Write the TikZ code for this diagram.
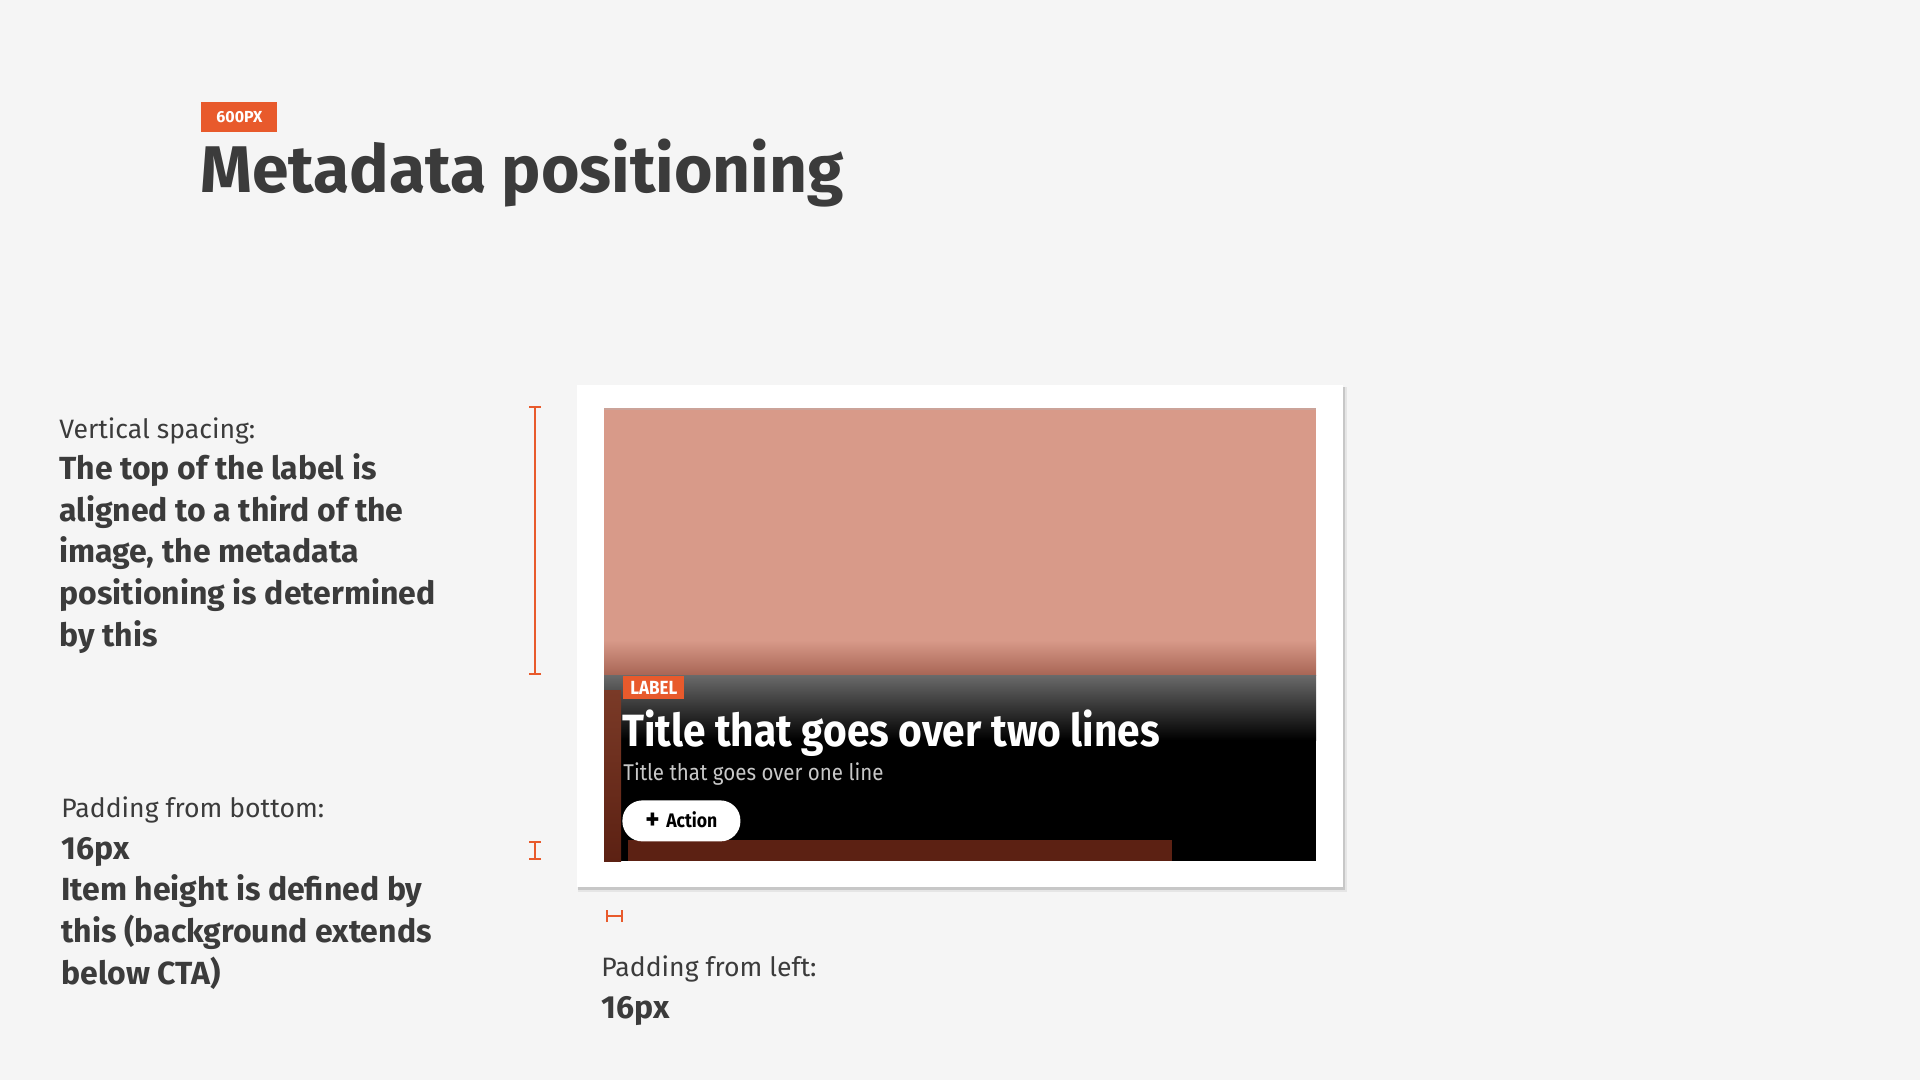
\documentclass[tikz,border=0pt]{standalone}
\usepackage{fontspec}
\setmainfont{Fira Sans}
\newfontfamily\condfont[FakeStretch=0.9]{Fira Sans}
\usetikzlibrary{arrows.meta, positioning}
\definecolor{pagebg}{HTML}{F5F5F5}
\definecolor{brandorange}{HTML}{E85A2C}
\definecolor{inkgrey}{HTML}{3B3B3B}
\definecolor{salmon}{HTML}{D89A89}
\definecolor{salmondark}{HTML}{A86555}
\definecolor{fadegrey}{HTML}{6A6A6A}
\definecolor{rust}{HTML}{5C2113}
\definecolor{rustlight}{HTML}{7A3A27}
\definecolor{subgrey}{HTML}{C8C8C8}
\newcommand{\notebold}[1]{\textbf{\fontsize{16}{20.8}\selectfont #1}}

\begin{document}
\begin{tikzpicture}[x=0.5pt, y=-0.5pt,
  note/.style={anchor=base west, align=left, inner sep=0pt, text=inkgrey, font=\fontsize{13.3}{20.8}\selectfont},
  badge/.style={fill=brandorange, text=white, inner sep=0pt, font=\bfseries},
  measure/.style={draw=brandorange, line width=1pt, {Bar[width=6pt]}-{Bar[width=6pt]}}]
% page
\fill[pagebg] (0,0) rectangle (1920,1080);
\useasboundingbox (0,0) rectangle (1920,1080);

% heading
\node[badge, minimum width=38pt, minimum height=15pt, anchor=north west, font=\bfseries\fontsize{8}{9}\selectfont] (sizetag) at (201,102) {600PX};
\node[anchor=base west, inner sep=0pt, text=inkgrey, font=\bfseries\fontsize{33}{36}\selectfont] (heading) at (200,193) {Metadata positioning};

% notes on the left (anchored on their last line)
\node[note] (vnote) at (59,646) {Vertical spacing:\\
  \notebold{The top of the label is}\\
  \notebold{aligned to a third of the}\\
  \notebold{image, the metadata}\\
  \notebold{positioning is determined}\\
  \notebold{by this}};
\node[note] (bnote) at (61,984) {Padding from bottom:\\
  \notebold{16px}\\
  \notebold{Item height is defined by}\\
  \notebold{this (background extends}\\
  \notebold{below CTA)}};
\node[note] (lnote) at (601,1018) {Padding from left:\\
  \notebold{16px}};

% card with shadow
\fill[black!10] (578,387) rectangle (1347,892);
\fill[black!22] (578,387) rectangle (1345,890);
\fill[white] (577,385) rectangle (1343,887);

% image and fade
\fill[salmon] (604,409) rectangle (1316,640);
\draw[salmondark!60, line width=0.6pt] (604,409) -- (1316,409);
\shade[top color=salmon, bottom color=salmondark] (604,640) rectangle (1316,675);
\shade[top color=fadegrey, bottom color=black] (604,675) rectangle (1316,740);
\fill[black] (604,740) rectangle (1316,861);
\shade[top color=rustlight, bottom color=rust] (604,690) rectangle (621,861);
\fill[rust] (628,840) rectangle (1172,861);

% metadata
\node[badge, minimum width=30.5pt, minimum height=11.5pt, anchor=north west, font=\condfont\bfseries\fontsize{9.5}{11}\selectfont] (tag) at (623,676) {LABEL};
\node[anchor=base west, inner sep=0pt, text=white, font=\condfont\bfseries\fontsize{22.6}{24}\selectfont] (cardtitle) at (622,746) {Title that goes over two lines};
\node[anchor=base west, inner sep=0pt, text=subgrey, font=\condfont\fontsize{11.4}{13}\selectfont] (cardsub) at (623,780) {Title that goes over one line};
\node[fill=white, rounded corners=10pt, minimum width=59pt, minimum height=20.5pt, inner sep=0pt, anchor=north west, font=\condfont\bfseries\fontsize{9.8}{11}\selectfont] (cta) at (622,800) {\raisebox{-1pt}{\fontsize{15}{15}\selectfont +}\,\,Action};

% measures
\coordinate (vtop) at (535,406);
\coordinate (vbot) at (535,675);
\coordinate (ptop) at (535,841);
\coordinate (pbot) at (535,860);
\coordinate (lleft) at (606,916);
\coordinate (lright) at (623,916);
\draw[measure] (vtop) -- (vbot);
\draw[measure] (ptop) -- (pbot);
\draw[measure] (lleft) -- (lright);
\end{tikzpicture}
\end{document}
